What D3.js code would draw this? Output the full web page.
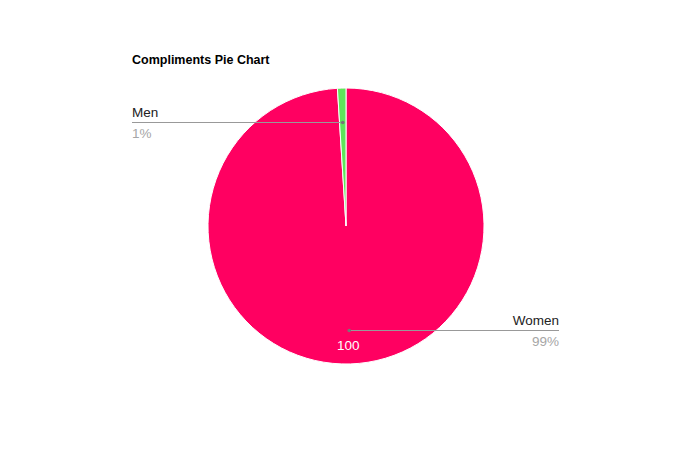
<!DOCTYPE html>
<html><head><meta charset="utf-8">
<script src="https://cdn.jsdelivr.net/npm/d3@7"></script>
<style>body{margin:0;background:#fff}svg{display:block}</style>
</head><body>
<svg id="c" width="690" height="449"></svg>
<script>
const categories = ["Women", "Men"];
const values = [100, 1];
const colors = ["#ff0061", "#5fe65a"];
const percentLabels = ["99%", "1%"];

const svg = d3.select("#c");
const cx = 346, cy = 226, r = 138;
svg.append("rect").attr("width",690).attr("height",449).attr("fill","#fff");
svg.append("text").attr("x",132).attr("y",64).attr("font-family","Arial, Liberation Sans, sans-serif")
  .attr("font-size",12.5).attr("font-weight","bold").attr("fill","#000").text("Compliments Pie Chart");

const pie = d3.pie().sort(null).value(d=>d)(values);
const arc = d3.arc().innerRadius(0).outerRadius(r);
const g = svg.append("g").attr("transform",`translate(${cx},${cy})`);
g.selectAll("path").data(pie).join("path").attr("d",arc)
  .attr("fill",(d,i)=>colors[i]).attr("stroke","#fff").attr("stroke-width",1);

const font = "Arial, Liberation Sans, sans-serif";
pie.forEach((d,i)=>{
  const mid = (d.startAngle+d.endAngle)/2;
  const pr = r*0.754;
  const px = cx + Math.sin(mid)*pr, py = Math.round(cy - Math.cos(mid)*pr) + 0.5;
  const endX = i===1 ? 132 : 559;
  svg.append("line").attr("x1",px).attr("y1",py).attr("x2",endX).attr("y2",py)
    .attr("stroke","#999").attr("stroke-width",1);
  svg.append("circle").attr("cx",px).attr("cy",py).attr("r",1.8).attr("fill","#777");
  const anchor = i===1 ? "start" : "end";
  svg.append("text").attr("x",endX).attr("y",py-6).attr("text-anchor",anchor)
    .attr("font-family",font).attr("font-size",13.5).attr("fill","#222").text(categories[i]);
  svg.append("text").attr("x",endX).attr("y",py+15).attr("text-anchor",anchor)
    .attr("font-family",font).attr("font-size",13.5).attr("fill","#a6a6a6").text(percentLabels[i]);
  if (i===0) {
    svg.append("text").attr("x",px-1).attr("y",py+19).attr("text-anchor","middle")
      .attr("font-family",font).attr("font-size",13.5).attr("fill","#fff").text(values[i]);
  }
});
</script>
</body></html>
